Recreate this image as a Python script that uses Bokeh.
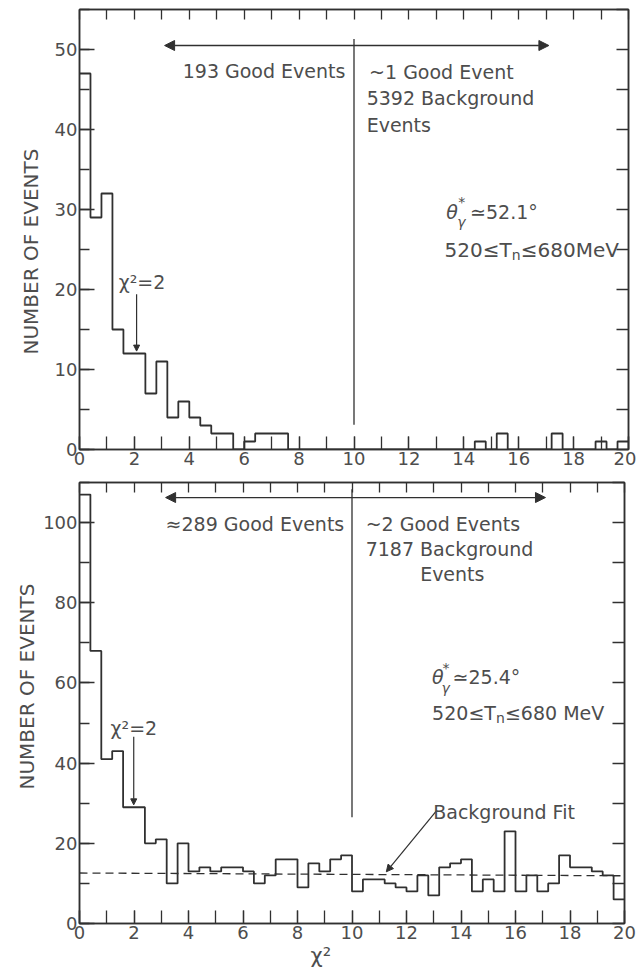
import math
from bokeh.plotting import figure
from bokeh.models import LinearAxis, Range1d, SingleIntervalTicker, Label, Arrow, NormalHead, Title
from bokeh.layouts import column
from bokeh.embed import file_html
from bokeh.resources import INLINE

LINE = "#303030"
TEXT = "#4d4d4d"
FONT = "DejaVu Sans"

# ---------------- data ----------------
bin_width = 0.4
x_ticks_label_step = 2

top_counts = [47, 29, 32, 15, 12, 12, 7, 11, 4, 6,
              4, 3, 2, 2, 0, 1, 2, 2, 2, 0,
              0, 0, 0, 0, 0, 0, 0, 0, 0, 0,
              0, 0, 0, 0, 0, 0, 1, 0, 2, 0,
              0, 0, 0, 2, 0, 0, 0, 1, 0, 1]

bottom_counts = [107, 68, 41, 43, 29, 29, 20, 21, 10, 20,
                 13, 14, 13, 14, 14, 13, 10, 12, 16, 16,
                 9, 15, 13, 16, 17, 8, 11, 11, 10, 9,
                 8, 12, 7, 14, 15, 16, 8, 11, 8, 23,
                 8, 12, 8, 10, 17, 14, 14, 13, 12, 6]

fit_x = [0, 20]
fit_y = [12.6, 11.9]

chi2_cut = 10

top_texts = {
    "good_left": "193 Good Events",
    "good_right": "~1 Good Event",
    "bkg": "5392 Background",
    "events": "Events",
    "angle": "≃52.1°",
    "energy": ["520≤T", "n", "≤680MeV"],
}
bottom_texts = {
    "good_left": "≈289 Good Events",
    "good_right": "~2 Good Events",
    "bkg": "7187 Background",
    "events": "Events",
    "angle": "≃25.4°",
    "energy": ["520≤T", "n", " ≤680 MeV"],
    "fit": "Background Fit",
}


def edges_for(counts):
    return [round(i * bin_width, 1) for i in range(len(counts) + 1)]


def style_axis(ax, tick_in, minor_in=None, labels=True):
    ax.axis_line_color = LINE
    ax.axis_line_width = 1.5
    ax.major_tick_line_color = LINE
    ax.major_tick_line_width = 1.3
    ax.major_tick_in = tick_in
    ax.major_tick_out = 0
    if minor_in:
        ax.minor_tick_in = minor_in
        ax.minor_tick_out = 0
        ax.minor_tick_line_color = LINE
        ax.minor_tick_line_width = 1.3
    else:
        ax.minor_tick_line_color = None
    if labels:
        ax.major_label_text_font = FONT
        ax.major_label_text_font_size = "18px"
        ax.major_label_text_color = TEXT
        ax.major_label_standoff = 2
    else:
        ax.major_label_text_font_size = "0px"
        ax.major_label_text_color = None
        ax.major_label_standoff = 0


def txt(p, x, y, text, size=19, align="left", style="normal", dx=0, dy=0):
    p.add_layout(Label(x=x, y=y, text=text, text_font=FONT, text_font_size=f"{size}px",
                       text_color=TEXT, text_align=align, text_baseline="middle",
                       text_font_style=style, x_offset=dx, y_offset=dy))


def energy(p, x, y, parts, size=19):
    txt(p, x, y, parts[0], size=size)
    txt(p, x, y, parts[1], size=14, dx=3.36 * size, dy=-5)
    txt(p, x, y, parts[2], size=size, dx=3.36 * size + 9)


def side_title(p, text, side, offset, standoff, size):
    t = Title(text=text, align="left", offset=offset, standoff=standoff,
              text_font=FONT, text_font_size=f"{size}px", text_font_style="normal",
              text_color=TEXT)
    p.add_layout(t, side)


def make_panel(counts, ymax, fw, fh, left_major, right_int, border_top, border_bottom, border_right):
    p = figure(frame_width=fw, frame_height=fh, x_range=Range1d(0, 20), y_range=Range1d(0, ymax),
               output_backend="svg", toolbar_location=None,
               min_border_left=79, min_border_right=border_right,
               min_border_top=border_top, min_border_bottom=border_bottom,
               background_fill_color="white", border_fill_color="white")
    p.grid.visible = False
    p.outline_line_color = LINE
    p.outline_line_width = 1.5

    p.xaxis.ticker = SingleIntervalTicker(interval=x_ticks_label_step, num_minor_ticks=2)
    style_axis(p.xaxis[0], 13, 13)
    p.yaxis.ticker = SingleIntervalTicker(interval=left_major, num_minor_ticks=2)
    style_axis(p.yaxis[0], 15, 10)

    top_ax = LinearAxis(ticker=SingleIntervalTicker(interval=1, num_minor_ticks=0))
    style_axis(top_ax, 10, None, labels=False)
    p.add_layout(top_ax, "above")
    right_ax = LinearAxis(ticker=SingleIntervalTicker(interval=right_int, num_minor_ticks=0))
    style_axis(right_ax, 12, None, labels=False)
    p.add_layout(right_ax, "right")

    edges = edges_for(counts)
    p.step(x=edges, y=counts + [counts[-1]], mode="after", line_color=LINE, line_width=1.8)
    return p


# ---------------- top panel ----------------
p1 = make_panel(top_counts, 55, 549, 440, 10, 5, 9, 25, 8)
side_title(p1, "NUMBER OF EVENTS", "left", 95, 18, 20)
p1.segment(x0=[chi2_cut], y0=[3.1], x1=[chi2_cut], y1=[51.3], line_color=LINE, line_width=1.3)
p1.add_layout(Arrow(start=NormalHead(size=10, fill_color=LINE, line_color=LINE),
                    end=NormalHead(size=10, fill_color=LINE, line_color=LINE),
                    x_start=3.1, y_start=50.5, x_end=17.1, y_end=50.5,
                    line_color=LINE, line_width=1.3))
p1.add_layout(Arrow(end=NormalHead(size=6, fill_color=LINE, line_color=LINE),
                    x_start=2.08, y_start=19.4, x_end=2.08, y_end=12.3,
                    line_color=LINE, line_width=1.2))
txt(p1, 3.76, 47.3, top_texts["good_left"])
txt(p1, 10.55, 47.2, top_texts["good_right"])
txt(p1, 10.46, 43.9, top_texts["bkg"])
txt(p1, 10.46, 40.6, top_texts["events"])
txt(p1, 1.43, 21.0, "χ²=2")
txt(p1, 13.36, 29.75, "θ", style="italic")
txt(p1, 13.8, 30.9, "*", size=14)
txt(p1, 13.76, 28.4, "γ", size=14, style="italic")
txt(p1, 14.23, 29.75, top_texts["angle"])
energy(p1, 13.3, 25.0, top_texts["energy"], size=20)

# ---------------- bottom panel ----------------
p2 = make_panel(bottom_counts, 110, 545, 441, 20, 10, 8, 49, 12)
side_title(p2, "NUMBER OF EVENTS", "left", 134, 3, 20)
side_title(p2, "χ²", "below", 231, 0, 21)
p2.line(x=fit_x, y=fit_y, line_color=LINE, line_width=1.3, line_dash="8 5")
p2.segment(x0=[chi2_cut], y0=[26.5], x1=[chi2_cut], y1=[108.3], line_color=LINE, line_width=1.3)
p2.add_layout(Arrow(start=NormalHead(size=10, fill_color=LINE, line_color=LINE),
                    end=NormalHead(size=10, fill_color=LINE, line_color=LINE),
                    x_start=3.16, y_start=106.25, x_end=17.1, y_end=106.25,
                    line_color=LINE, line_width=1.3))
p2.add_layout(Arrow(end=NormalHead(size=6, fill_color=LINE, line_color=LINE),
                    x_start=1.99, y_start=46.6, x_end=1.99, y_end=29.6,
                    line_color=LINE, line_width=1.2))
p2.add_layout(Arrow(end=NormalHead(size=7, fill_color=LINE, line_color=LINE),
                    x_start=13.12, y_start=28.3, x_end=11.26, y_end=12.9,
                    line_color=LINE, line_width=1.2))
txt(p2, 3.16, 99.6, bottom_texts["good_left"])
txt(p2, 10.5, 99.6, bottom_texts["good_right"])
txt(p2, 10.5, 93.3, bottom_texts["bkg"])
txt(p2, 12.5, 87.1, bottom_texts["events"])
txt(p2, 1.14, 48.8, "χ²=2")
txt(p2, 12.94, 61.6, "θ", style="italic")
txt(p2, 13.32, 63.8, "*", size=14)
txt(p2, 13.28, 58.8, "γ", size=14, style="italic")
txt(p2, 13.69, 61.6, bottom_texts["angle"])
energy(p2, 12.94, 52.6, bottom_texts["energy"])
txt(p2, 12.98, 27.9, bottom_texts["fit"])

layout = column(p1, p2)
open("out.html", "w").write(file_html(layout, INLINE))
